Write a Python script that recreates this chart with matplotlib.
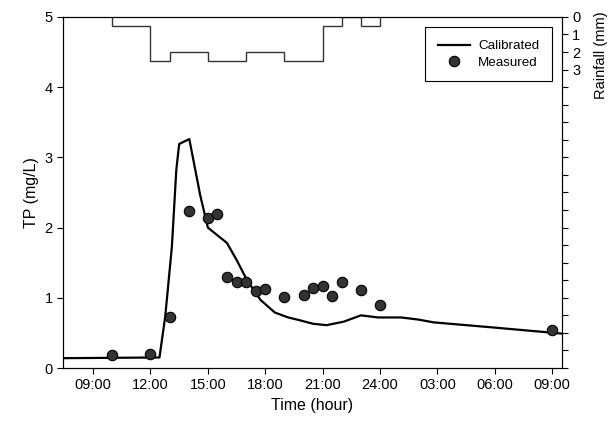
import numpy as np
import matplotlib
matplotlib.use("Agg")
import matplotlib.pyplot as plt
from matplotlib.ticker import FixedLocator, FuncFormatter

plt.rcParams['font.family'] = ['Liberation Sans', 'DejaVu Sans']

# time in hours from 00:00 of day 1 (24+ = next day)
calib_t = [7.43, 12.47, 12.77, 13.12, 13.35, 13.5, 14.03, 14.6, 15.0, 16.0, 16.5,
           17.05, 17.75, 18.5, 19.2, 19.8, 20.5, 21.2, 22.1, 23.0, 23.9, 25.1,
           26.0, 26.8, 29.8, 33.1, 33.5]
calib_tp = [0.14, 0.15, 0.73, 1.73, 2.82, 3.19, 3.26, 2.46, 2.0, 1.78, 1.54,
            1.25, 0.97, 0.79, 0.72, 0.68, 0.63, 0.61, 0.66, 0.75, 0.72, 0.72,
            0.69, 0.65, 0.58, 0.50, 0.49]

meas_t = [10.0, 12.0, 13.0, 14.0, 15.0, 15.5, 16.0, 16.5, 17.0, 17.5, 18.0,
          19.0, 20.0, 20.5, 21.0, 21.5, 22.0, 23.0, 24.0, 33.0]
meas_tp = [0.19, 0.20, 0.73, 2.24, 2.13, 2.20, 1.30, 1.23, 1.22, 1.09, 1.13,
           1.01, 1.04, 1.14, 1.17, 1.02, 1.23, 1.11, 0.90, 0.54]

rain_edges = [10, 11, 12, 13, 14, 15, 16, 17, 18, 19, 20, 21, 22, 23, 24]
rain_mm = [0.5, 0.5, 2.5, 2.0, 2.0, 2.5, 2.5, 2.0, 2.0, 2.5, 2.5, 0.5, 0.0, 0.5]

xtick_pos = [9, 12, 15, 18, 21, 24, 27, 30, 33]
xtick_lab = ['09:00', '12:00', '15:00', '18:00', '21:00', '24:00', '03:00', '06:00', '09:00']

fig = plt.figure(figsize=(6.12, 4.23), dpi=100)
ax = fig.add_axes([0.103, 0.130, 0.815, 0.830])

ax.plot(calib_t, calib_tp, color='black', lw=1.6, label='Calibrated')
ax.plot(meas_t, meas_tp, 'o', color='#333333', mec='black', mew=0.8, ms=7.5,
        label='Measured')

ax.set_xlim(7.43, 33.5)
ax.set_ylim(0, 5)
ax.set_xticks(xtick_pos)
ax.set_xticklabels(xtick_lab)
ax.set_yticks([0, 1, 2, 3, 4, 5])
ax.tick_params(direction='out', length=4, width=0.8, labelsize=10.5)
ax.set_xlabel('Time (hour)', fontsize=11.5)
ax.set_ylabel('TP (mg/L)', fontsize=11.5)

ax2 = ax.twinx()
ax2.stairs(rain_mm, rain_edges, baseline=0, color='#333333', lw=1.0)
ax2.set_ylim(20, 0)
ax2.yaxis.set_major_locator(FixedLocator(range(0, 21)))
ax2.yaxis.set_major_formatter(FuncFormatter(lambda v, p: '%d' % v if v <= 3 else ''))
ax2.tick_params(direction='out', length=4, width=0.8, labelsize=10.5)
ax2.set_ylabel('Rainfall (mm)', fontsize=10.5, va='center')
ax2.yaxis.set_label_coords(1.078, 0.89)

leg = ax.legend(loc='upper right', bbox_to_anchor=(0.98, 0.97), borderaxespad=0,
                fancybox=False, edgecolor='black', fontsize=9.6, handlelength=2.4,
                borderpad=0.95, labelspacing=0.3, handletextpad=0.6, framealpha=1)
leg.get_frame().set_linewidth(0.8)

fig.savefig('out.png', dpi=100)
